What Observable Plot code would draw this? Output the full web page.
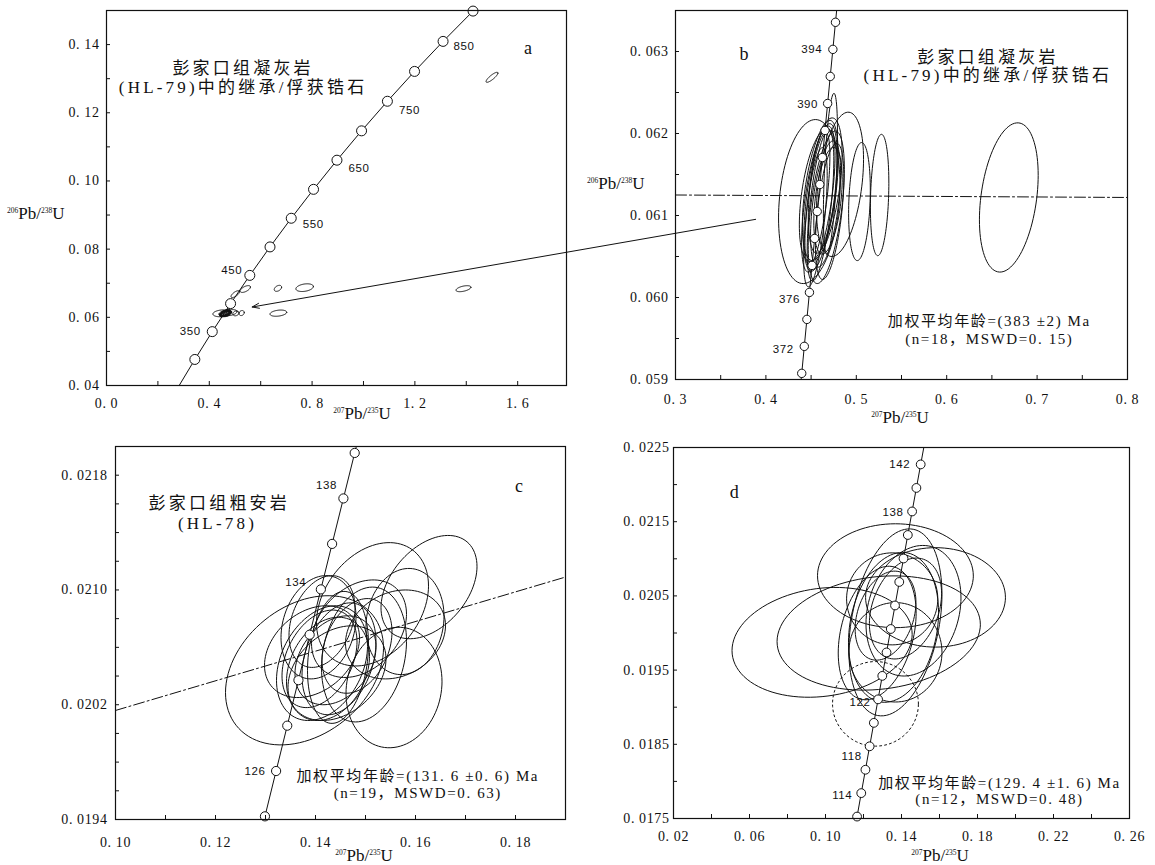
<!DOCTYPE html>
<html><head><meta charset="utf-8">
<script src="https://cdn.jsdelivr.net/npm/d3@7"></script>
<script src="https://cdn.jsdelivr.net/npm/@observablehq/plot@0.6"></script>
<style>
html,body{margin:0;padding:0;background:#fff;}
#fig{position:relative;width:1155px;height:865px;overflow:hidden;background:#fff;}
.panel{position:absolute;}
.panel svg{overflow:visible;}
.axt{position:absolute;font-family:"Liberation Serif","Noto Sans CJK SC",serif;font-size:17px;line-height:1;white-space:nowrap;color:#111;}
.axt sup{font-size:7.5px;vertical-align:6px;line-height:0;}
</style></head>
<body><div id="fig"></div>
<script>
// ================= DATA =================
// Panel a: concordia (ages in Ma) and discordant grains
const concA_age = [250, 300, 350, 400, 450, 500, 550, 600, 650, 700, 750, 800, 850, 900];
const concA_x = [0.27917, 0.34374, 0.41156, 0.48281, 0.55766, 0.63628, 0.71887, 0.80563, 0.89677, 0.99251, 1.09308, 1.19873, 1.30971, 1.42630];
const concA_y = [0.03954, 0.04764, 0.05580, 0.06402, 0.07230, 0.08065, 0.08906, 0.09754, 0.10609, 0.11470, 0.12338, 0.13213, 0.14094, 0.14983];
const concA_labels = [350, 450, 550, 650, 750, 850];
const extraA_cx = [1.500, 1.389, 0.771, 0.667, 0.540, 0.501];
const extraA_cy = [0.1304, 0.0684, 0.0687, 0.0685, 0.0683, 0.0668];
const extraA_sx = [0.023, 0.029, 0.034, 0.0143, 0.020, 0.0165];
const extraA_sy = [0.00147, 0.00088, 0.00113, 0.00088, 0.0010, 0.0010];
const extraA_rho = [0.85, 0.5, 0.3, 0.4, 0.6, 0.7];
const arrowA = {x1: 2.526, y1: 0.08874, x2: 0.567, y2: 0.06303};

// Panel b
const concB_age = [368, 370, 372, 374, 376, 378, 380, 382, 384, 386, 388, 390, 392, 394, 396, 398];
const concB_x = [0.43681, 0.43964, 0.44248, 0.44533, 0.44817, 0.45103, 0.45389, 0.45676, 0.45963, 0.46251, 0.46539, 0.46828, 0.47117, 0.47408, 0.47698, 0.47990];
const concB_y = [0.058747, 0.059075, 0.059404, 0.059733, 0.060062, 0.060391, 0.060720, 0.061049, 0.061378, 0.061707, 0.062037, 0.062366, 0.062696, 0.063026, 0.063356, 0.063686];
const concB_labels = [372, 376, 390, 394];
const ellB_cx = [0.448, 0.482, 0.5035, 0.5258, 0.6687, 0.4714, 0.4623, 0.4604, 0.4604, 0.466, 0.458, 0.4687, 0.457, 0.4635, 0.4705, 0.4548, 0.458, 0.4668];
const ellB_cy = [0.06117, 0.06138, 0.06117, 0.06125, 0.06122, 0.06151, 0.06132, 0.06122, 0.06112, 0.06114, 0.0612, 0.06118, 0.0612, 0.06135, 0.06105, 0.06098, 0.06125, 0.0611];
const ellB_sx = [0.034, 0.026, 0.012, 0.0102, 0.0325, 0.0078, 0.022, 0.0185, 0.0147, 0.0166, 0.0185, 0.0157, 0.0138, 0.0166, 0.0157, 0.013, 0.021, 0.020];
const ellB_sy = [0.00100, 0.00088, 0.00072, 0.00074, 0.00091, 0.00098, 0.00087, 0.00090, 0.00092, 0.00077, 0.00089, 0.00065, 0.00081, 0.00081, 0.00083, 0.00085, 0.00081, 0.00093];
const ellB_rho = [0.2, 0.35, 0.2, 0.2, 0.3, 0.5, 0.5, 0.55, 0.6, 0.5, 0.6, 0.4, 0.65, 0.45, 0.5, 0.6, 0.45, 0.5];
const meanB_x = [0.3, 0.8];
const meanB_y = [0.06125, 0.06122];

// Panel c
const concC_age = [122, 124, 126, 128, 130, 132, 134, 136, 138, 140, 142];
const concC_x = [0.12767, 0.12989, 0.13212, 0.13435, 0.13659, 0.13883, 0.14107, 0.14332, 0.14558, 0.14784, 0.15010];
const concC_y = [0.019106, 0.019422, 0.019738, 0.020054, 0.020371, 0.020688, 0.021004, 0.021321, 0.021638, 0.021955, 0.022272];
const concC_labels = [126, 134, 138];
const ellC_cx = [0.1378, 0.1627, 0.1514, 0.1557, 0.1579, 0.1406, 0.1393, 0.1413, 0.1408, 0.1447, 0.1487, 0.1497, 0.144, 0.156, 0.1443, 0.1445, 0.1483, 0.1413, 0.1425];
const ellC_cy = [0.02044, 0.02102, 0.0209, 0.02032, 0.02078, 0.02074, 0.02057, 0.02049, 0.02052, 0.02052, 0.02073, 0.02055, 0.02051, 0.02069, 0.02042, 0.02053, 0.02061, 0.02078, 0.02045];
const ellC_sx = [0.0158, 0.0096, 0.0112, 0.0096, 0.0078, 0.0075, 0.0095, 0.0091, 0.0075, 0.0074, 0.0095, 0.0085, 0.0081, 0.0100, 0.0098, 0.0061, 0.0070, 0.0066, 0.0083];
const ellC_sy = [0.00052, 0.00036, 0.00043, 0.00042, 0.00037, 0.00036, 0.00032, 0.00040, 0.00034, 0.00039, 0.00034, 0.00047, 0.00031, 0.00031, 0.00033, 0.00046, 0.00033, 0.00032, 0.00036];
const ellC_rho = [0.3, 0.4, 0.3, 0.1, 0.1, 0.2, 0.3, 0.3, 0.35, 0.3, 0.3, 0.2, 0.3, 0.2, 0.3, 0.2, 0.3, 0.3, 0.25];
const meanC_x = [0.10, 0.19];
const meanC_y = [0.02016, 0.02109];

// Panel d
const concD_age = [110, 112, 114, 116, 118, 120, 122, 124, 126, 128, 130, 132, 134, 136, 138, 140, 142, 144];
const concD_x = [0.11442, 0.11662, 0.11882, 0.12102, 0.12323, 0.12545, 0.12767, 0.12989, 0.13212, 0.13435, 0.13659, 0.13883, 0.14107, 0.14332, 0.14558, 0.14784, 0.15010, 0.15237];
const concD_y = [0.017210, 0.017526, 0.017842, 0.018157, 0.018473, 0.018789, 0.019106, 0.019422, 0.019738, 0.020054, 0.020371, 0.020688, 0.021004, 0.021321, 0.021638, 0.021955, 0.022272, 0.022589];
const concD_labels = [114, 118, 122, 138, 142];
const ellD_cx = [0.0982, 0.128, 0.1579, 0.1368, 0.1368, 0.1358, 0.1368, 0.1316, 0.1421, 0.1463, 0.1272, 0.1351];
const ellD_cy = [0.019874, 0.0200, 0.02048, 0.020772, 0.020143, 0.020076, 0.01974, 0.020234, 0.02033, 0.0203, 0.0200, 0.02046];
const ellD_sx = [0.0474, 0.0535, 0.0368, 0.041, 0.0245, 0.0237, 0.0245, 0.016, 0.019, 0.0250, 0.0205, 0.0240];
const ellD_sy = [0.00074, 0.00077, 0.00067, 0.0007, 0.00126, 0.00101, 0.00067, 0.00060, 0.00068, 0.00088, 0.00090, 0.00062];
const ellD_rho = [0.15, 0.15, 0.0, 0.0, 0.3, 0.2, 0.0, 0.3, 0.3, 0.2, 0.3, 0.0];
const rejD_cx = [0.1263];
const rejD_cy = [0.019045];
const rejD_sx = [0.0226];
const rejD_sy = [0.00057];
const rejD_rho = [0.0];

// ================= HELPERS =================
const SERIF = '"Liberation Serif", "Noto Sans CJK SC", serif';
const SANS = '"Liberation Sans", Arial, sans-serif';
const INK = "#111";
const TITLE_SPACING = "3.2px", NOTE_SPACING = "1.6px";
const spacing = new Map();

function conc(age, xs, ys) { return age.map((a, i) => ({age: a, x: xs[i], y: ys[i]})); }
function ellipses(cx, cy, sx, sy, rho, prefix) {
  const out = [], n = 96;
  cx.forEach((_, i) => {
    const k = Math.sqrt(1 - rho[i] * rho[i]);
    for (let j = 0; j < n; j++) {
      const t = 2 * Math.PI * j / n, c = Math.cos(t), s = Math.sin(t);
      out.push({id: prefix + i, x: cx[i] + sx[i] * c, y: cy[i] + sy[i] * (rho[i] * c + k * s)});
    }
  });
  return out;
}
const fmtDot = dec => v => v.toFixed(dec).replace(".", ". ");

function note(text, dx, dy, fontSize = 15, ls = NOTE_SPACING) {
  spacing.set(text, ls);
  return Plot.text([text], {text: d => d, frameAnchor: "top-left", dx, dy, textAnchor: "middle",
    fill: INK, fontFamily: SERIF, fontSize});
}
function ageMarks(points, labels, offsets, r, X, Y) {
  const inside = points.filter(d => d.x >= X[0] && d.x <= X[1] && d.y >= Y[0] && d.y <= Y[1]);
  const marks = [
    Plot.line(points, {x: "x", y: "y", stroke: INK, strokeWidth: 1, clip: true}),
    Plot.dot(inside, {x: "x", y: "y", r, fill: "white", stroke: INK, strokeWidth: 1})
  ];
  labels.forEach(a => {
    const p = points.find(d => d.age === a);
    marks.push(Plot.text([p], {x: "x", y: "y", text: d => String(d.age), dx: offsets[a][0], dy: offsets[a][1],
      fontFamily: SANS, fontSize: 11.5, fill: INK, textAnchor: "middle"}));
  });
  return marks;
}
function ellipseMark(data, extra = {}) {
  return Plot.line(data, {x: "x", y: "y", z: "id", curve: "linear-closed", stroke: INK, strokeWidth: 1, clip: true, ...extra});
}

function panel(cfg) {
  const {width, height, m, X, Y, xLabels, xTicks, yLabels, yTicks, xDec, yDec, xPad, yPad, marks} = cfg;
  const innerW = width - m.left - m.right, innerH = height - m.top - m.bottom;
  const svg = Plot.plot({
    width, height, marginTop: m.top, marginRight: m.right, marginBottom: m.bottom, marginLeft: m.left,
    x: {domain: X}, y: {domain: Y},
    style: {fontFamily: '"Liberation Serif", serif', fontSize: "14px", background: "transparent", overflow: "visible", color: INK, letterSpacing: "0.6px"},
    marks: [
      ...marks,
      Plot.axisX({ticks: xLabels, tickSize: 0, tickPadding: xPad, tickFormat: fmtDot(xDec), label: null, fontSize: 14}),
      Plot.axisY({ticks: yLabels, tickSize: 0, tickPadding: yPad, tickFormat: fmtDot(yDec), label: null, fontSize: 14}),
      Plot.ruleX(xTicks, {x: d => d, insetTop: innerH - 4, stroke: INK, strokeWidth: 1}),
      Plot.ruleY(yTicks, {y: d => d, insetRight: innerW - 4, stroke: INK, strokeWidth: 1}),
      Plot.frame({stroke: INK, strokeWidth: 1.2})
    ]
  });
  svg.querySelectorAll("text").forEach(t => {
    const s = spacing.get(t.textContent);
    if (s != null) t.style.letterSpacing = s;
  });
  const div = document.createElement("div");
  div.className = "panel";
  div.style.left = cfg.left + "px"; div.style.top = cfg.top + "px";
  div.style.width = width + "px"; div.style.height = height + "px";
  div.style.zIndex = cfg.z || 1;
  div.appendChild(svg);
  document.getElementById("fig").appendChild(div);
}
function axisTitle(html, left, top, centerX) {
  const d = document.createElement("div");
  d.className = "axt";
  d.innerHTML = html;
  d.style.left = left + "px"; d.style.top = top + "px";
  d.style.transform = centerX ? "translate(-50%,-50%)" : "translateY(-50%)";
  document.getElementById("fig").appendChild(d);
}
const ratio = (a, b) => `<sup>${a}</sup>Pb/<sup>${b}</sup>U`;
const range = (a, b, s) => d3.range(Math.round((b - a) / s) + 1).map(i => +(a + i * s).toFixed(6));

// ================= PANELS =================
const ellB = ellipses(ellB_cx, ellB_cy, ellB_sx, ellB_sy, ellB_rho, "b");

// ---- a ----
{
  const X = [0, 1.79], Y = [0.04, 0.150];
  panel({
    left: 0, top: 0, width: 580, height: 435, z: 3, m: {top: 10, right: 14, bottom: 50, left: 106}, X, Y,
    xLabels: [0, 0.4, 0.8, 1.2, 1.6], xTicks: range(0.2, 1.6, 0.2), xDec: 1, xPad: 13,
    yLabels: range(0.04, 0.14, 0.02), yTicks: range(0.05, 0.14, 0.01), yDec: 2, yPad: 7,
    marks: [
      ellipseMark(ellB),
      ellipseMark(ellipses(extraA_cx, extraA_cy, extraA_sx, extraA_sy, extraA_rho, "a")),
      ...ageMarks(conc(concA_age, concA_x, concA_y), concA_labels,
        {350: [-22, 0], 450: [-18, -5], 550: [22, 6], 650: [22, 8], 750: [22, 9], 850: [21, 5]}, 5, X, Y),
      Plot.arrow([arrowA], {x1: "x1", y1: "y1", x2: "x2", y2: "y2", stroke: INK, strokeWidth: 1, headLength: 11, headAngle: 40}),
      note("彭家口组凝灰岩", 136.6, 51, 17, TITLE_SPACING),
      note("(HL-79)中的继承/俘获锆石", 136.6, 70, 17, TITLE_SPACING),
      note("a", 421.6, 30.7, 18, "0px")
    ]
  });
}
// ---- b ----
{
  const X = [0.3, 0.8], Y = [0.059, 0.0635];
  panel({
    left: 580, top: 0, width: 575, height: 435, m: {top: 10, right: 28, bottom: 56, left: 95}, X, Y,
    xLabels: range(0.3, 0.8, 0.1), xTicks: range(0.35, 0.75, 0.05), xDec: 1, xPad: 15,
    yLabels: range(0.059, 0.063, 0.001), yTicks: range(0.0595, 0.0635, 0.0005), yDec: 3, yPad: 7,
    marks: [
      Plot.line(meanB_x.map((x, i) => ({x, y: meanB_y[i]})), {x: "x", y: "y", stroke: INK, strokeWidth: 1, strokeDasharray: "11,3,2,3"}),
      ellipseMark(ellB),
      ...ageMarks(conc(concB_age, concB_x, concB_y), concB_labels,
        {372: [-21, 3], 376: [-20, 7], 390: [-20, 1], 394: [-21, 0]}, 4.2, X, Y),
      note("彭家口组凝灰岩", 312.4, 40, 17, TITLE_SPACING),
      note("(HL-79)中的继承/俘获锆石", 312.4, 58.3, 17, TITLE_SPACING),
      note("b", 68.6, 36.7, 18, "0px"),
      note("加权平均年龄=(383 ±2) Ma", 313.8, 305),
      note("(n=18，MSWD=0. 15)", 313.8, 323.3)
    ]
  });
}
// ---- c ----
{
  const X = [0.10, 0.19], Y = [0.0194, 0.0220];
  panel({
    left: 0, top: 435, width: 580, height: 430, m: {top: 11, right: 15, bottom: 46, left: 115}, X, Y,
    xLabels: range(0.10, 0.18, 0.02), xTicks: range(0.11, 0.18, 0.01), xDec: 2, xPad: 18,
    yLabels: [0.0194, 0.0202, 0.0210, 0.0218], yTicks: range(0.0196, 0.0218, 0.0002), yDec: 4, yPad: 8,
    marks: [
      Plot.line(meanC_x.map((x, i) => ({x, y: meanC_y[i]})), {x: "x", y: "y", stroke: INK, strokeWidth: 1, strokeDasharray: "11,3,2,3"}),
      ellipseMark(ellipses(ellC_cx, ellC_cy, ellC_sx, ellC_sy, ellC_rho, "c")),
      ...ageMarks(conc(concC_age, concC_x, concC_y), concC_labels,
        {126: [-21, 0], 134: [-25, -7], 138: [-17, -13]}, 4.6, X, Y),
      note("彭家口组粗安岩", 103.8, 50.7, 17, TITLE_SPACING),
      note("(HL-78)", 102, 70.7, 17, TITLE_SPACING),
      note("c", 403.4, 32.3, 18, "0px"),
      note("加权平均年龄=(131. 6 ±0. 6) Ma", 302.3, 324),
      note("(n=19，MSWD=0. 63)", 302.3, 340.7)
    ]
  });
}
// ---- d ----
{
  const X = [0.02, 0.26], Y = [0.0175, 0.0225];
  panel({
    left: 580, top: 435, width: 575, height: 430, m: {top: 12, right: 26, bottom: 47, left: 93}, X, Y,
    xLabels: range(0.02, 0.26, 0.04), xTicks: range(0.04, 0.24, 0.02), xDec: 2, xPad: 13,
    yLabels: range(0.0175, 0.0225, 0.001), yTicks: range(0.018, 0.0225, 0.0005), yDec: 4, yPad: 4,
    marks: [
      ellipseMark(ellipses(ellD_cx, ellD_cy, ellD_sx, ellD_sy, ellD_rho, "d")),
      ellipseMark(ellipses(rejD_cx, rejD_cy, rejD_sx, rejD_sy, rejD_rho, "r"), {strokeDasharray: "2,3"}),
      ...ageMarks(conc(concD_age, concD_x, concD_y), concD_labels,
        {114: [-19, 2], 118: [-18, 10], 122: [-18, 3], 138: [-19, 1], 142: [-21, 0]}, 4.4, X, Y),
      note("d", 60.7, 38, 18, "0px"),
      note("加权平均年龄=(129. 4 ±1. 6) Ma", 326, 329.7),
      note("(n=12，MSWD=0. 48)", 326, 346.3)
    ]
  });
}
// ---- axis titles ----
axisTitle(ratio(206, 238), 7, 213, false);
axisTitle(ratio(207, 235), 362, 413, true);
axisTitle(ratio(206, 238), 587, 183, false);
axisTitle(ratio(207, 235), 900, 417, true);
axisTitle(ratio(207, 235), 364, 855, true);
axisTitle(ratio(207, 235), 940, 855, true);
</script>
</body></html>
